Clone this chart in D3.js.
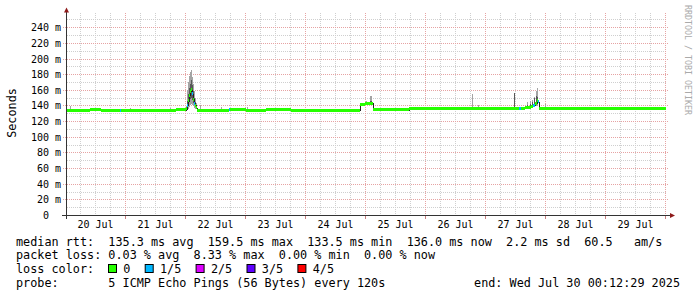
<!DOCTYPE html>
<html><head><meta charset="utf-8">
<script src="https://cdn.jsdelivr.net/npm/d3@7"></script>
<style>
body{margin:0;background:#fff;}
svg{display:block;}
text{font-family:"DejaVu Sans Mono",monospace;white-space:pre;}
</style></head><body>
<svg id="chart" width="697" height="297"></svg>
<script>
// ---------------- data ----------------
const startTime = "2025-07-20T00:12:29Z";
const endTime   = "2025-07-30T00:12:29Z";
const stepHours = 0.4; // one RRD step (24 min)

// median rtt series: hours since start (holds until next sample), ms, lost pings out of 5
const medHours = [0, 4, 9.6, 14, 21.6, 22, 28, 34, 40, 44,
  48, 48.4, 48.8, 49.2, 49.6, 50, 50.4, 50.8, 51.2, 51.6, 52,
  52.4, 60, 65.2, 65.6, 72, 80, 90, 100, 110,
  117.6, 119.6, 121.2, 122.8, 128, 137.2, 150, 162, 170,
  181.2, 182, 183.6, 184.4, 185.2, 186, 186.8, 187.6, 188.4, 188.8,
  189.2, 200, 215, 228];
const medMs = [134.2, 134.0, 134.3, 134.0, 134.2, 134.2, 133.9, 134.2, 134.0, 134.3,
  136, 140, 146, 153, 158, 160, 155, 148, 143, 140, 137,
  134.2, 134.0, 134.3, 134.3, 134.0, 134.3, 134.0, 134.2, 134.0,
  141.5, 142, 143, 134.6, 134.3, 136.3, 136.1, 136.4, 136.2,
  136.3, 136.3, 137, 137.5, 138, 139, 140, 143, 146, 145,
  136.3, 136.1, 136.4, 136.2];
const medLoss = [0, 0, 0, 0, 1, 0, 0, 0, 0, 0,
  0, 1, 0, 0, 0, 0, 1, 0, 1, 0, 0,
  0, 0, 1, 0, 0, 0, 0, 0, 0,
  0, 0, 0, 0, 0, 0, 0, 0, 0,
  1, 0, 0, 0, 0, 0, 1, 0, 0, 1,
  0, 0, 0, 0];

// visible smoke (ping spread) samples: hours since start, sorted ping values in ms
const smokeHours = [1.6, 9.6, 25.6, 41.6,
  48, 48.4, 48.8, 49.2, 49.6, 50, 50.4, 50.8, 51.2, 51.6, 52,
  53.6, 62, 72.4, 120, 121.6, 122, 162.4, 164.8, 179.2,
  184.4, 185.6, 186.4, 187.2, 188, 188.4, 191.6];
const smokeMin = [133, 133, 133, 133,
  134, 135, 136, 138, 140, 142, 141, 139, 137, 136, 135,
  133, 133, 133, 141, 142, 142, 135, 135, 135,
  136, 137, 137, 138, 139, 139, 135];
const smokeLo = [134, 134, 134, 134,
  135, 137, 140, 144, 148, 150, 147, 143, 140, 138, 136,
  134, 134, 134, 142, 143, 143, 136, 136, 136,
  137, 138, 139, 141, 143, 144, 136];
const smokeHi = [135, 135, 135, 135,
  137, 146, 155, 162, 168, 172, 166, 158, 150, 145, 139,
  135, 135, 135, 143, 146, 146, 137, 137, 156,
  140, 142, 144, 149, 152, 151, 137];
const smokeMax = [139.5, 137, 137, 137,
  139, 160, 170, 178, 183, 185, 177, 167, 158, 150, 143,
  140, 137.5, 137.5, 146, 152, 152, 154.5, 140, 156.5,
  145, 146, 147, 151, 158, 162, 142];

const lossLabels = ["0", "1/5", "2/5", "3/5", "4/5"];
const lossColors = ["#26ff00", "#00b8ff", "#dd00ff", "#5e00ff", "#ff0000"];

const yMajorTicks = [20, 40, 60, 80, 100, 120, 140, 160, 180, 200, 220, 240];
const yMinorTicks = [10, 30, 50, 70, 90, 110, 130, 150, 170, 190, 210, 230, 250];

const legendRows = [
  "median rtt:  135.3 ms avg  159.5 ms max  133.5 ms min  136.0 ms now  2.2 ms sd  60.5   am/s",
  "packet loss: 0.03 % avg  8.33 % max  0.00 % min  0.00 % now"
];
const lossTitle = "loss color:";
const probeText = "probe:       5 ICMP Echo Pings (56 Bytes) every 120s";
const endText = "end: Wed Jul 30 00:12:29 2025";
const yTitle = "Seconds";
const watermark = "RRDTOOL / TOBI OETIKER";

// ---------------- drawing ----------------
const svg = d3.select("#chart");
const t0 = new Date(startTime), t1 = new Date(endTime);
const hr = h => new Date(t0.getTime() + h * 3600e3);
const x = d3.scaleUtc().domain([t0, t1]).range([66, 666]);
const y = d3.scaleLinear().domain([0, 258.2]).range([215, 13]);
const px = v => Math.round(v) + 0.5;

const gridCol = "#cfcfcf", majCol = "#e6a3a3";

// minor vertical grid (every 6h)
const minorX = d3.utcHour.every(6).range(t0, t1).filter(d => d.getUTCHours() !== 0);
svg.append("g").selectAll("line").data(minorX).join("line")
  .attr("x1", d => px(x(d))).attr("x2", d => px(x(d)))
  .attr("y1", 13).attr("y2", 215)
  .attr("stroke", gridCol).attr("stroke-dasharray", "1,1").attr("shape-rendering", "crispEdges");
// minor horizontal grid
svg.append("g").selectAll("line").data(yMinorTicks).join("line")
  .attr("x1", 67).attr("x2", 667)
  .attr("y1", d => px(y(d))).attr("y2", d => px(y(d)))
  .attr("stroke", gridCol).attr("stroke-dasharray", "1,1").attr("shape-rendering", "crispEdges");
// major vertical grid (midnights)
const majorX = d3.utcDay.range(t0, t1);
svg.append("g").selectAll("line").data(majorX).join("line")
  .attr("x1", d => px(x(d))).attr("x2", d => px(x(d)))
  .attr("y1", 13).attr("y2", 215)
  .attr("stroke", majCol).attr("stroke-dasharray", "1,1").attr("shape-rendering", "crispEdges");
svg.append("g").selectAll("line").data(majorX).join("line")
  .attr("x1", d => px(x(d))).attr("x2", d => px(x(d)))
  .attr("y1", 215).attr("y2", 219)
  .attr("stroke", "#c98080").attr("shape-rendering", "crispEdges");
// major horizontal grid
svg.append("g").selectAll("line").data(yMajorTicks).join("line")
  .attr("x1", 63).attr("x2", 668)
  .attr("y1", d => px(y(d))).attr("y2", d => px(y(d)))
  .attr("stroke", majCol).attr("stroke-dasharray", "1,1").attr("shape-rendering", "crispEdges");

// smoke
const smoke = smokeHours.map((h, i) => ({h, mn: smokeMin[i], lo: smokeLo[i], hi: smokeHi[i], mx: smokeMax[i]}));
const gs = svg.append("g").attr("shape-rendering", "crispEdges");
gs.selectAll("rect.o").data(smoke).join("rect").attr("class", "o")
  .attr("x", d => Math.round(x(hr(d.h))))
  .attr("width", d => Math.max(1, Math.round(x(hr(d.h + stepHours))) - Math.round(x(hr(d.h)))))
  .attr("y", d => Math.round(y(d.mx)))
  .attr("height", d => Math.round(y(d.mn)) - Math.round(y(d.mx)))
  .attr("fill", "#a4a4a4");
gs.selectAll("rect.i").data(smoke).join("rect").attr("class", "i")
  .attr("x", d => Math.round(x(hr(d.h))))
  .attr("width", d => Math.max(1, Math.round(x(hr(d.h + stepHours))) - Math.round(x(hr(d.h)))))
  .attr("y", d => Math.round(y(d.hi)))
  .attr("height", d => Math.round(y(d.lo)) - Math.round(y(d.hi)))
  .attr("fill", "#585858");

// median
const med = medHours.map((h, i) => ({h, v: medMs[i], l: medLoss[i], h2: i < medHours.length - 1 ? medHours[i + 1] : 240}));
const medLine = d3.line().curve(d3.curveStepAfter).x(d => x(hr(d.h))).y(d => px(y(d.v)));
svg.append("path").datum(med.concat([{h: 240, v: med[med.length - 1].v}]))
  .attr("d", medLine).attr("fill", "none").attr("stroke", "#202020").attr("stroke-width", 1)
  .attr("shape-rendering", "crispEdges");
svg.append("g").attr("shape-rendering", "crispEdges").selectAll("rect").data(med).join("rect")
  .attr("x", d => Math.round(x(hr(d.h))))
  .attr("width", d => Math.round(x(hr(d.h2))) - Math.round(x(hr(d.h))))
  .attr("y", d => Math.round(y(d.v) - 1.5))
  .attr("height", 3)
  .attr("fill", d => lossColors[d.l]);

// axes
const axCol = "#333", arCol = "#8e1a1a";
svg.append("line").attr("x1", 66.5).attr("x2", 66.5).attr("y1", 219).attr("y2", 11)
  .attr("stroke", axCol).attr("shape-rendering", "crispEdges");
svg.append("line").attr("x1", 62).attr("x2", 671).attr("y1", 215.5).attr("y2", 215.5)
  .attr("stroke", axCol).attr("shape-rendering", "crispEdges");
svg.append("path").attr("d", "M64,12.5L69,12.5L66.5,7.5Z").attr("fill", arCol);
svg.append("path").attr("d", "M670,213L670,218L675,215.5Z").attr("fill", arCol);

// y labels
const yl = svg.append("g").attr("font-size", "10px").attr("fill", "#000").attr("text-anchor", "end");
yl.selectAll("text").data([0].concat(yMajorTicks)).join("text")
  .attr("x", 61).attr("y", d => Math.round(y(d)) + 4)
  .text(d => d === 0 ? "0  " : d + " m");
// x labels at noon of each day (only days whose noon lies inside the range)
const noon = d => new Date(d.getTime() + 12 * 3600e3);
const days = d3.utcDay.range(d3.utcDay.floor(t0), t1).filter(d => noon(d) < t1);
const fmt = d3.utcFormat("%d %b");
svg.append("g").attr("font-size", "10px").attr("fill", "#000").attr("text-anchor", "middle")
  .selectAll("text").data(days).join("text")
  .attr("x", d => x(noon(d)))
  .attr("y", 228)
  .text(d => fmt(d));

// titles
svg.append("text").attr("transform", "translate(15.5,113) rotate(-90)")
  .attr("text-anchor", "middle").attr("font-size", "11.8px").attr("fill", "#000").text(yTitle);
svg.append("text").attr("transform", "translate(685,5) rotate(90)")
  .attr("text-anchor", "start").attr("font-size", "8.3px").attr("fill", "#aaa").text(watermark);

// legend
const lg = svg.append("g").attr("font-size", "11.8px").attr("fill", "#000");
const rowY = [245.5, 259.2, 272.9, 286.5];
legendRows.forEach((s, i) => lg.append("text").attr("x", 16).attr("y", rowY[i]).text(s));
lg.append("text").attr("x", 16).attr("y", rowY[2]).text(lossTitle);
let lx = 108.5;
lossLabels.forEach((lab, i) => {
  lg.append("rect").attr("x", lx).attr("y", 264.5).attr("width", 8).attr("height", 8)
    .attr("fill", lossColors[i]).attr("stroke", "#000").attr("stroke-width", 1);
  const tx = lx + 14.8;
  lg.append("text").attr("x", tx).attr("y", rowY[2]).text(lab);
  lx = tx + lab.length * 7.1 + 14.8;
});
lg.append("text").attr("x", 16).attr("y", rowY[3]).text(probeText);
lg.append("text").attr("x", 680).attr("y", rowY[3]).attr("text-anchor", "end").text(endText);
</script>
</body></html>
